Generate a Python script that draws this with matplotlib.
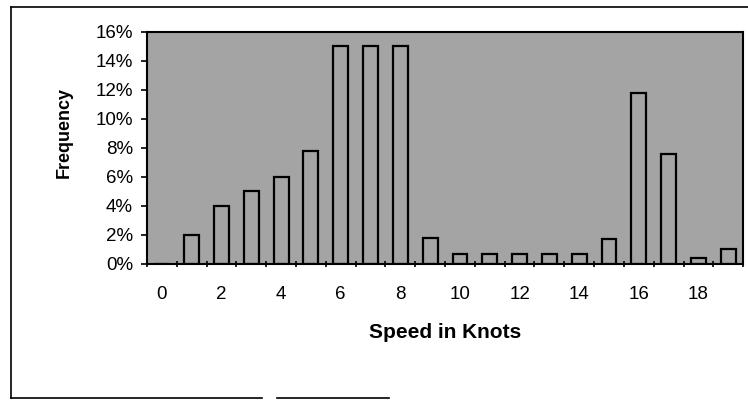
import numpy as np
import matplotlib.pyplot as plt
from matplotlib.ticker import PercentFormatter, FixedLocator
from matplotlib.lines import Line2D

plt.rcParams['font.family'] = ['Liberation Sans', 'DejaVu Sans']

# Frequency (%) of each wind speed in knots
speeds = list(range(20))
freq = [0, 2, 4, 5, 6, 7.8, 15, 15, 15, 1.8, 0.7, 0.7, 0.7, 0.7, 0.7, 1.7, 11.8, 7.6, 0.4, 1.0]
xtick_labels = ['0', '2', '4', '6', '8', '10', '12', '14', '16', '18']

fig = plt.figure(figsize=(7.48, 4.03), dpi=100)
ax = fig.add_axes([0.1965, 0.345, 0.797, 0.576])

bg = '#a4a4a4'
ax.set_facecolor(bg)
ax.bar(speeds, freq, width=0.5, color=bg, edgecolor='black', linewidth=1.6)

ax.set_xlim(-0.5, 19.5)
ax.set_ylim(0, 16)
ax.set_yticks(np.arange(0, 17, 2))
ax.yaxis.set_major_formatter(PercentFormatter(decimals=0))

# category axis: ticks between categories, labels on every second category
ax.xaxis.set_major_locator(FixedLocator(np.arange(-0.5, 20, 1)))
ax.xaxis.set_major_formatter(plt.NullFormatter())
ax.set_xticks(speeds[::2], labels=xtick_labels, minor=True)
ax.tick_params(axis='x', which='minor', length=0, pad=16, labelsize=13.5)
ax.tick_params(axis='x', which='major', length=5, width=1.2, direction='inout')
ax.tick_params(axis='y', length=4, width=1.2, labelsize=13.5, pad=6)

for s in ax.spines.values():
    s.set_linewidth(1.5)

ax.set_ylabel('Frequency', fontsize=13, fontweight='bold')
ax.yaxis.set_label_coords(-0.125, 0.565)
ax.set_xlabel('Speed in Knots', fontsize=15, fontweight='bold', labelpad=14)

# broken chart-area border
fig.add_artist(Line2D([0.015, 1.0], [0.982, 0.982], color='black', lw=1.2, transform=fig.transFigure))
fig.add_artist(Line2D([0.015, 0.015], [0.012, 0.982], color='black', lw=1.2, transform=fig.transFigure))
fig.add_artist(Line2D([0.015, 0.35], [0.012, 0.012], color='black', lw=1.2, transform=fig.transFigure))
fig.add_artist(Line2D([0.37, 0.52], [0.012, 0.012], color='black', lw=1.2, transform=fig.transFigure))

fig.savefig('out.png', dpi=100)
